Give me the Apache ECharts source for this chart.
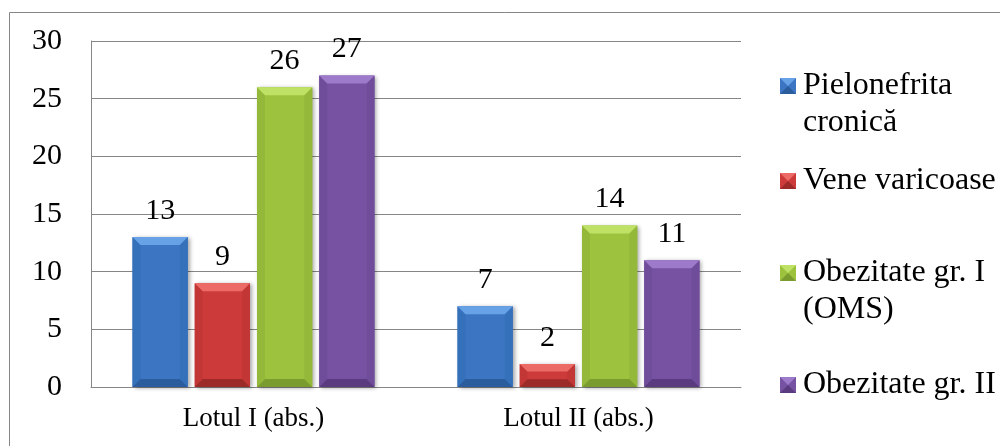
<!DOCTYPE html>
<html>
<head>
<meta charset="utf-8">
<script src="https://cdn.jsdelivr.net/npm/echarts@6/dist/echarts.min.js"></script>
<style>
  html, body { margin: 0; padding: 0; background: #fff; }
  #chart { width: 1000px; height: 446px; }
</style>
</head>
<body>
<div id="chart"></div>
<script>
// Categories and series values
const categories = ['Lotul I (abs.)', 'Lotul II (abs.)'];
const seriesNames = ['Pielonefrita\ncronică', 'Vene varicoase', 'Obezitate gr. I\n(OMS)', 'Obezitate gr. II'];
const pielonefrita = [13, 7];
const veneVaricoase = [9, 2];
const obezitateI = [26, 14];
const obezitateII = [27, 11];
const seriesValues = [pielonefrita, veneVaricoase, obezitateI, obezitateII];
const yMin = 0, yMax = 30, yStep = 5;

// Bevelled bar palette: face, top bevel, side bevel, bottom bevel
const palette = [
  { face: '#3c76c2', top: '#68a2e6', side: '#3570bb', bottom: '#2b5c9e' },
  { face: '#cc3b39', top: '#ec6b67', side: '#c23735', bottom: '#9c2a29' },
  { face: '#9cc23e', top: '#bfe266', side: '#94b93a', bottom: '#7a9c2e' },
  { face: '#7752a3', top: '#9e7acb', side: '#704d9b', bottom: '#5a3b80' }
];

const FONT = 'Liberation Serif';
const GREY = '#868686';

function bevelBar(si) {
  return function (params, api) {
    const c = api.value(0), v = api.value(1);
    const base = api.coord([c, 0]);
    const top = api.coord([c, v]);
    const band = api.size([1, 0])[0];
    const bw = band * 0.17;
    const gap = band * 0.0215;
    const gw = 4 * bw + 3 * gap;
    const x0 = base[0] - gw / 2 + si * (bw + gap);
    const x1 = x0 + bw;
    const y0 = top[1], y1 = base[1];
    const b = Math.min(8, (y1 - y0) / 3);
    const p = palette[si];
    return {
      type: 'group',
      children: [
        { type: 'rect', shape: { x: x0, y: y0, width: bw, height: y1 - y0 },
          style: { fill: p.face, shadowBlur: 4, shadowOffsetX: 2, shadowOffsetY: 1, shadowColor: 'rgba(0,0,0,0.35)' } },
        { type: 'polygon', shape: { points: [[x0, y0], [x0 + b, y0 + b], [x0 + b, y1 - b], [x0, y1]] },
          style: { fill: p.side } },
        { type: 'polygon', shape: { points: [[x1, y0], [x1 - b, y0 + b], [x1 - b, y1 - b], [x1, y1]] },
          style: { fill: p.side } },
        { type: 'polygon', shape: { points: [[x0, y1], [x0 + b, y1 - b], [x1 - b, y1 - b], [x1, y1]] },
          style: { fill: p.bottom } },
        { type: 'polygon', shape: { points: [[x0, y0], [x1, y0], [x1 - b, y0 + b], [x0 + b, y0 + b]] },
          style: { fill: p.top } },
        { type: 'text', x: (x0 + x1) / 2, y: y0 - 11,
          style: { text: String(v), fontFamily: FONT, fontSize: 30, fill: '#000', align: 'center', verticalAlign: 'bottom' } }
      ]
    };
  };
}

// Legend beside the plot: bevelled markers plus text blocks; first-line centres
const legendY = [86, 181, 273, 385];
const legendMarkers = [];
const legendTexts = [];
seriesNames.forEach(function (name, i) {
  const p = palette[i];
  const cy = legendY[i];
  const s = 16, x = 780, y = cy - s / 2;
  legendMarkers.push({
    type: 'group',
    children: [
      { type: 'rect', shape: { x: x, y: y, width: s, height: s }, style: { fill: p.face } },
      { type: 'polygon', shape: { points: [[x, y], [x + s, y], [x + s / 2, y + s / 2]] }, style: { fill: p.top } },
      { type: 'polygon', shape: { points: [[x, y + s], [x + s, y + s], [x + s / 2, y + s / 2]] }, style: { fill: p.bottom } }
    ]
  });
  legendTexts.push({
    text: name,
    left: 803,
    top: cy - 18.5,
    padding: 0,
    itemGap: 0,
    textStyle: { fontFamily: FONT, fontSize: 32, fontWeight: 'normal', color: '#000', lineHeight: 37 }
  });
});

const chart = echarts.init(document.getElementById('chart'), null, { renderer: 'canvas' });
chart.setOption({
  animation: false,
  backgroundColor: '#fff',
  title: legendTexts,
  grid: { left: 91, right: 259, top: 41, bottom: 59, containLabel: false },
  xAxis: {
    type: 'category',
    data: categories,
    axisLine: { show: true, lineStyle: { color: GREY, width: 1 } },
    axisTick: { show: false },
    axisLabel: { fontFamily: FONT, fontSize: 27, color: '#000', margin: 18 },
    splitLine: { show: false }
  },
  yAxis: {
    type: 'value',
    min: yMin, max: yMax, interval: yStep,
    axisLine: { show: true, lineStyle: { color: GREY, width: 1 } },
    axisTick: { show: false },
    axisLabel: { fontFamily: FONT, fontSize: 30, color: '#000', margin: 29 },
    splitLine: { show: true, lineStyle: { color: GREY, width: 1 } }
  },
  graphic: [
    { type: 'rect', z: -1, shape: { x: 9.5, y: 12.5, width: 1200, height: 1000 },
      style: { fill: 'none', stroke: GREY, lineWidth: 1 } }
  ].concat(legendMarkers),
  series: seriesValues.map(function (vals, si) {
    return {
      type: 'custom',
      name: seriesNames[si],
      renderItem: bevelBar(si),
      encode: { x: 0, y: 1 },
      data: vals.map(function (v, ci) { return [ci, v]; }),
      z: 5
    };
  })
});
</script>
</body>
</html>
